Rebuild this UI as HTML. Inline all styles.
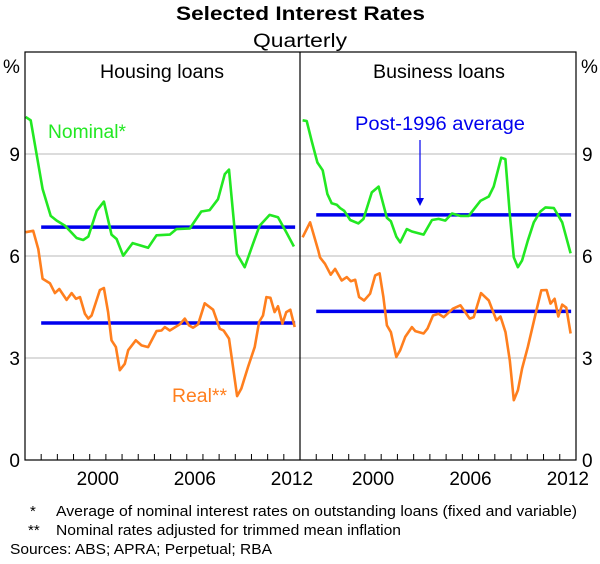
<!DOCTYPE html>
<html><head><meta charset="utf-8"><style>
body{margin:0;background:#fff;font-family:"Liberation Sans",sans-serif}
svg text{font-family:"Liberation Sans",sans-serif}
</style></head><body>
<svg id="c" width="600" height="559" xmlns="http://www.w3.org/2000/svg">
<text x="176" y="20" font-size="19" font-weight="bold" textLength="249" lengthAdjust="spacingAndGlyphs">Selected Interest Rates</text>
<text x="253" y="47" font-size="19" textLength="94" lengthAdjust="spacingAndGlyphs">Quarterly</text>
<g id="grid"></g>
<g id="series"></g>
<rect x="25" y="52" width="551" height="408" fill="none" stroke="#000" stroke-width="1.2"/>
<line x1="300" y1="52" x2="300" y2="460" stroke="#000" stroke-width="1.2"/>
<text x="100" y="78" font-size="19" textLength="124" lengthAdjust="spacingAndGlyphs">Housing loans</text>
<text x="373" y="78" font-size="19" textLength="132" lengthAdjust="spacingAndGlyphs">Business loans</text>
<text x="3" y="73" font-size="19">%</text>
<text x="581" y="73" font-size="19">%</text>
<text x="48" y="138" font-size="19" fill="#22e822" textLength="78" lengthAdjust="spacingAndGlyphs">Nominal*</text>
<text x="172" y="402" font-size="19" fill="#ff7f1e" textLength="55" lengthAdjust="spacingAndGlyphs">Real**</text>
<text x="355" y="130" font-size="19" fill="#0000ee" textLength="170" lengthAdjust="spacingAndGlyphs">Post-1996 average</text>
<line x1="420" y1="140" x2="420" y2="200" stroke="#0000ee" stroke-width="1.2"/>
<polygon points="416,198 424,198 420,206" fill="#0000ee"/>
<g id="axes"></g>
<text x="30" y="516" font-size="15">*</text>
<text x="56" y="516" font-size="15" textLength="521" lengthAdjust="spacingAndGlyphs">Average of nominal interest rates on outstanding loans (fixed and variable)</text>
<text x="28" y="535" font-size="15">**</text>
<text x="56" y="535" font-size="15" textLength="345" lengthAdjust="spacingAndGlyphs">Nominal rates adjusted for trimmed mean inflation</text>
<text x="10" y="554" font-size="15" textLength="262" lengthAdjust="spacingAndGlyphs">Sources: ABS; APRA; Perpetual; RBA</text>
</svg>
<script>
const yTicks=[0,3,6,9];
const xLabels=[2000,2006,2012];
const housingNomYears=[1996.04,1996.35,1996.72,1997.09,1997.59,1997.96,1998.47,1999.19,1999.6,1999.91,2000.43,2000.88,2001.35,2001.66,2002.07,2002.65,2003.61,2004.13,2004.95,2005.36,2006.19,2006.9,2007.42,2007.93,2008.35,2008.61,2009.1,2009.58,2010.09,2010.5,2011.12,2011.64,2012.15,2012.62];
const housingNom=[10.09,9.99,8.99,7.97,7.18,7.04,6.89,6.53,6.47,6.57,7.33,7.6,6.63,6.5,6.01,6.38,6.24,6.61,6.63,6.79,6.81,7.31,7.35,7.67,8.41,8.54,6.06,5.67,6.35,6.89,7.21,7.14,6.7,6.28];
const housingRealYears=[1996.04,1996.51,1996.82,1997.09,1997.54,1997.85,1998.12,1998.57,1998.88,1999.15,1999.4,1999.7,1999.91,2000.12,2000.63,2000.88,2001.14,2001.35,2001.62,2001.86,2002.17,2002.38,2002.85,2003.2,2003.61,2004.13,2004.44,2004.64,2004.95,2005.57,2005.88,2006.14,2006.39,2006.7,2007.11,2007.63,2008.04,2008.28,2008.61,2008.86,2009.11,2009.37,2009.79,2010.2,2010.47,2010.71,2010.92,2011.17,2011.43,2011.64,2011.91,2012.15,2012.4,2012.67];
const housingReal=[6.7,6.74,6.2,5.33,5.2,4.91,5.03,4.71,4.91,4.74,4.79,4.3,4.16,4.25,5.0,5.06,4.35,3.52,3.32,2.64,2.83,3.23,3.52,3.37,3.32,3.79,3.81,3.91,3.81,3.99,4.16,3.96,3.89,3.99,4.61,4.42,3.86,3.81,3.57,2.74,1.88,2.1,2.74,3.32,4.06,4.25,4.79,4.77,4.35,4.52,4.01,4.35,4.42,3.91];
const businessNomYears=[1996.16,1996.41,1996.72,1997.07,1997.4,1997.69,1997.95,1998.26,1998.47,1998.72,1999.09,1999.6,1999.91,2000.42,2000.84,2001.35,2001.6,2001.93,2002.17,2002.58,2002.89,2003.61,2004.13,2004.54,2004.95,2005.36,2005.88,2006.39,2006.8,2007.11,2007.63,2007.93,2008.39,2008.65,2008.92,2009.17,2009.42,2009.68,2010.03,2010.4,2010.81,2011.12,2011.64,2012.15,2012.67];
const businessNom=[9.99,9.97,9.38,8.75,8.52,7.82,7.55,7.51,7.41,7.33,7.06,6.96,7.09,7.87,8.04,7.12,7.02,6.57,6.4,6.79,6.72,6.63,7.06,7.09,7.04,7.25,7.18,7.18,7.43,7.62,7.75,8.04,8.89,8.85,7.23,5.96,5.67,5.87,6.45,6.99,7.31,7.43,7.41,6.99,6.08];
const businessRealYears=[1996.16,1996.62,1997.13,1997.23,1997.54,1997.89,1998.16,1998.57,1998.88,1999.13,1999.4,1999.64,1999.95,2000.32,2000.63,2000.9,2001.14,2001.35,2001.6,2001.93,2002.17,2002.48,2002.89,2003.1,2003.61,2003.86,2004.19,2004.54,2004.85,2005.42,2005.88,2006.45,2006.7,2007.15,2007.63,2008.1,2008.35,2008.66,2008.92,2009.17,2009.42,2009.68,2010.03,2010.51,2010.86,2011.19,2011.43,2011.68,2011.91,2012.15,2012.4,2012.67];
const businessReal=[6.55,6.99,6.16,5.96,5.77,5.45,5.62,5.28,5.38,5.26,5.3,4.79,4.69,4.89,5.43,5.49,4.79,3.96,3.76,3.03,3.23,3.62,3.91,3.79,3.72,3.87,4.25,4.3,4.2,4.45,4.55,4.16,4.2,4.91,4.69,4.11,4.22,3.76,2.93,1.76,2.05,2.69,3.32,4.3,4.99,5.0,4.6,4.74,4.22,4.57,4.48,3.72];
const averages=[6.85,4.03,7.21,4.37];
const avgSpan=[1997.0,2012.7];

const NS='http://www.w3.org/2000/svg';
const svg=document.getElementById('c');
const Y0=460,Y1=52,VMAX=12;
function yS(v){return Y0-(v/VMAX)*(Y0-Y1);}
function xS(panel,yr){const left=panel===0?25:300;return left+(yr-1996)/17*(panel===0?275:276);}
function mk(tag,attrs,parent){const e=document.createElementNS(NS,tag);for(const k in attrs)e.setAttribute(k,attrs[k]);parent.appendChild(e);return e;}
const grid=document.getElementById('grid'),ser=document.getElementById('series'),axes=document.getElementById('axes');
yTicks.forEach(v=>{
  if(v>0){const g=mk('line',{x1:25,x2:576,y1:yS(v),y2:yS(v),stroke:'#c8c8c8','stroke-width':1.2},grid);
  
  }
  const l=mk('text',{x:20,y:yS(v)+7,'text-anchor':'end','font-size':19},axes);l.textContent=v;
  
  
  const r=mk('text',{x:582,y:yS(v)+7,'font-size':19},axes);r.textContent=v;
  
  
});
for(let p=0;p<2;p++){
  for(let yr=1997;yr<=2012;yr++){
    const t=mk('line',{x1:xS(p,yr),x2:xS(p,yr),y1:Y0,y2:Y0-6,stroke:'#000','stroke-width':1},axes);
    
    
  }
  xLabels.forEach(yr=>{
    const l=mk('text',{x:xS(p,yr+0.5),y:485,'text-anchor':'middle','font-size':19},axes);l.textContent=yr;
    
    
  });
}
function line(p,xs,vs,color,name){
  const d=xs.map((x,i)=>(i?'L':'M')+xS(p,x).toFixed(1)+','+yS(vs[i]).toFixed(1)).join('');
  const e=mk('path',{d:d,fill:'none',stroke:color,'stroke-width':2.6,'stroke-linejoin':'round'},ser);
  
  
}
[[0,0],[0,1],[1,2],[1,3]].forEach(([p,i])=>{
  const e=mk('line',{x1:xS(p,avgSpan[0]),x2:xS(p,avgSpan[1]),y1:yS(averages[i]),y2:yS(averages[i]),stroke:'#0000ee','stroke-width':3.5},ser);
  
  
});
line(0,housingNomYears,housingNom,'#22e822','housing-nominal-line');
line(0,housingRealYears,housingReal,'#ff7f1e','housing-real-line');
line(1,businessNomYears,businessNom,'#22e822','business-nominal-line');
line(1,businessRealYears,businessReal,'#ff7f1e','business-real-line');
</script>
</body></html>
